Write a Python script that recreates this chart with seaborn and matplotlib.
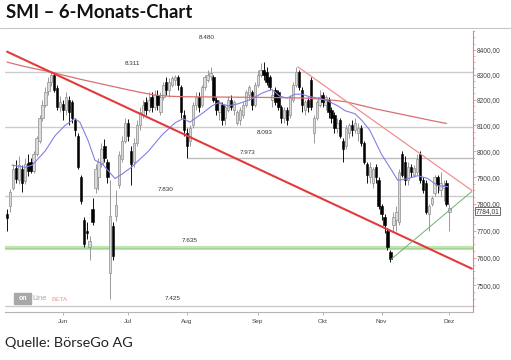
import numpy as np
import pandas as pd
import matplotlib
matplotlib.use("Agg")
import matplotlib.pyplot as plt
import seaborn as sns
from matplotlib.ticker import FixedLocator, NullFormatter
from matplotlib.patches import Rectangle

# daily candles (trading-day index 0..150)
opens = [7760, 7790, 7860, 7935, 7890, 7930, 7885, 7955, 7957, 7925,
         7990, 8040, 8130, 8180, 8235, 8270, 8300, 8245, 8170, 8185,
         8160, 8200, 8190, 8120, 8060, 7900, 7740, 7700, 7640, 7780,
         7860, 7900, 7950, 8020, 7960, 7545, 7715, 7755, 7870, 7970,
         8040, 8110, 8000, 7960, 8030, 8100, 8140, 8190, 8160, 8210,
         8170, 8220, 8150, 8210, 8270, 8240, 8260, 8280, 8290, 8250,
         8140, 8070, 8040, 8100, 8180, 8210, 8180, 8250, 8280, 8295,
         8290, 8200, 8150, 8180, 8130, 8160, 8200, 8160, 8110, 8120,
         8140, 8180, 8220, 8230, 8180, 8260, 8300, 8320, 8310, 8290,
         8200, 8240, 8230, 8170, 8130, 8160, 8140, 8200, 8260, 8310,
         8240, 8160, 8200, 8280, 8070, 8130, 8180, 8220, 8180, 8200,
         8160, 8140, 8090, 8120, 8040, 8020, 8070, 8100, 8080, 8070,
         8090, 8030, 7950, 7900, 7880, 7940, 7890, 7790, 7750, 7700,
         7620, 7720, 7740, 7730, 7990, 7960, 7890, 7940, 7910, 7920,
         7990, 7890, 7880, 7760, 7800, 7840, 7900, 7850, 7860, 7880,
         7770]
highs = [7780, 7855, 7950, 7965, 7980, 7945, 7975, 7990, 7975, 8000,
         8060, 8140, 8200, 8250, 8290, 8311, 8311, 8260, 8215, 8200,
         8230, 8215, 8200, 8130, 8070, 7910, 7750, 7730, 7680, 7820,
         7950, 7975, 8030, 8045, 7970, 7890, 7730, 7850, 8000, 8060,
         8130, 8125, 8020, 8050, 8120, 8170, 8200, 8210, 8230, 8230,
         8240, 8240, 8230, 8270, 8290, 8285, 8295, 8300, 8300, 8260,
         8160, 8090, 8100, 8190, 8230, 8230, 8260, 8300, 8320, 8330,
         8300, 8210, 8200, 8190, 8180, 8215, 8220, 8200, 8160, 8170,
         8190, 8240, 8260, 8240, 8270, 8320, 8345, 8350, 8330, 8300,
         8240, 8250, 8240, 8180, 8170, 8170, 8220, 8270, 8330, 8320,
         8250, 8200, 8210, 8290, 8140, 8200, 8240, 8230, 8220, 8210,
         8170, 8150, 8130, 8130, 8050, 8100, 8110, 8120, 8130, 8110,
         8100, 8040, 7960, 7960, 7940, 7950, 7900, 7800, 7760, 7710,
         7630, 7770, 7790, 7930, 8000, 7980, 7960, 7950, 7945, 7990,
         8000, 7900, 7890, 7800, 7830, 7910, 7910, 7920, 7890, 7890,
         7800]
lows = [7700, 7770, 7850, 7880, 7875, 7845, 7875, 7905, 7915, 7915,
        7980, 8030, 8115, 8170, 8220, 8255, 8230, 8160, 8150, 8120,
        8140, 8100, 8110, 8060, 7930, 7800, 7640, 7670, 7590, 7720,
        7840, 7850, 7940, 7960, 7880, 7450, 7590, 7735, 7860, 7960,
        8030, 8040, 7870, 7940, 8020, 8080, 8130, 8140, 8150, 8150,
        8160, 8160, 8140, 8200, 8220, 8210, 8250, 8260, 8240, 8130,
        8060, 7973, 8020, 8090, 8160, 8150, 8170, 8240, 8270, 8280,
        8190, 8140, 8120, 8100, 8100, 8150, 8160, 8140, 8100, 8100,
        8130, 8170, 8200, 8160, 8170, 8250, 8290, 8280, 8260, 8240,
        8170, 8180, 8160, 8110, 8110, 8100, 8130, 8190, 8250, 8240,
        8150, 8140, 8150, 8160, 8033, 8120, 8170, 8170, 8160, 8130,
        8110, 8070, 8070, 8050, 7960, 8010, 8050, 8060, 8070, 8040,
        8020, 7950, 7880, 7880, 7860, 7880, 7780, 7740, 7690, 7630,
        7585, 7700, 7700, 7720, 7900, 7870, 7870, 7900, 7900, 7910,
        7880, 7840, 7760, 7700, 7790, 7830, 7840, 7830, 7810, 7790,
        7700]
closes = [7745, 7845, 7930, 7895, 7945, 7880, 7950, 7925, 7922, 7990,
          8050, 8130, 8180, 8230, 8270, 8300, 8240, 8170, 8190, 8160,
          8210, 8150, 8130, 8080, 7940, 7810, 7650, 7690, 7660, 7730,
          7930, 7960, 8010, 7975, 7900, 7755, 7605, 7795, 7985, 8040,
          8110, 8060, 7950, 8030, 8100, 8150, 8180, 8160, 8200, 8170,
          8220, 8180, 8210, 8260, 8240, 8270, 8285, 8290, 8260, 8150,
          8080, 8020, 8090, 8180, 8210, 8170, 8250, 8290, 8300, 8305,
          8200, 8160, 8190, 8120, 8170, 8200, 8170, 8190, 8150, 8160,
          8180, 8230, 8250, 8180, 8260, 8300, 8320, 8300, 8270, 8250,
          8220, 8190, 8170, 8130, 8160, 8120, 8210, 8260, 8310, 8250,
          8180, 8190, 8170, 8170, 8130, 8190, 8210, 8190, 8210, 8150,
          8130, 8090, 8110, 8060, 8010, 8090, 8100, 8080, 8110, 8090,
          8030, 7960, 7910, 7940, 7930, 7900, 7790, 7760, 7720, 7640,
          7595, 7750, 7770, 7920, 7910, 7890, 7940, 7920, 7935, 7970,
          7890, 7850, 7770, 7790, 7820, 7900, 7870, 7880, 7870, 7800,
          7784.01]

# moving averages, sampled along the curves
ma20_idx = [1.7, 6.1, 8.5, 12.9, 16.3, 19.7, 23, 24.7, 27.5, 29.8, 32.2, 34.2,
            36.6, 39, 42.4, 44.4, 47.8, 52.5, 57, 59.7, 62, 66, 69.5, 71.5,
            75, 78.3, 83, 86.4, 89.8, 92.5, 95, 97.6, 100, 102, 105.4, 108.8,
            112.2, 114.6, 118, 120.3, 123, 127, 130.5, 132.5, 136, 139.3,
            142.7, 146, 149.5]
ma20_val = [7946, 7938, 7946, 8000, 8060, 8100, 8126, 8112, 8040, 7965, 7952,
            7926, 7895, 7912, 7940, 7962, 7998, 8062, 8110, 8126, 8112, 8145,
            8176, 8188, 8176, 8184, 8203, 8226, 8241, 8214, 8207, 8222, 8222,
            8214, 8207, 8195, 8176, 8157, 8145, 8119, 8081, 7987, 7925, 7888,
            7895, 7906, 7895, 7868, 7864]
ma200_idx = [0, 5, 10, 15, 20, 25, 30, 35, 40, 45, 50, 55, 60, 70, 80, 90,
             100, 105, 110, 115, 120, 125, 130, 135, 140, 145, 149]
ma200_val = [8350, 8335, 8322, 8310, 8295, 8281, 8268, 8255, 8242, 8230, 8219,
             8214, 8212, 8211, 8210, 8209, 8207, 8204, 8199, 8192, 8178, 8164,
             8152, 8140, 8128, 8116, 8107]

# horizontal support / resistance levels
levels = [8311, 8093, 7830, 7425]
level_texts = ["8.480", "8.311", "8.093", "7.973", "7.830", "7.635", "7.425"]
level_text_pos = [(67.8, 8448), (42.4, 8344), (87.5, 8072), (81.7, 7995),
                  (53.6, 7854), (62, 7664), (56, 7454)]

month_labels = ["Jun", "Jul", "Aug", "Sep", "Okt", "Nov", "Dez"]
month_idx = [19, 41, 61, 85, 107, 127, 150]
price_ticks = [7500, 7600, 7700, 7800, 7900, 8000, 8100, 8200, 8300, 8400]

df = pd.DataFrame({"o": opens, "h": highs, "l": lows, "c": closes})
df["i"] = np.arange(len(df))
up = df[df.c >= df.o]
dn = df[df.c < df.o]

sns.set_theme(style="white")
plt.rcParams["font.family"] = ["Liberation Sans", "DejaVu Sans"]

fig = plt.figure(figsize=(5.11, 3.6), dpi=100)
ax = fig.add_axes([5 / 511, 1 - 312 / 360, 468 / 511, 282 / 360])
ax.set_yscale("log")

for v in levels:
    ax.axhline(v, color="#cccccc", lw=1, zorder=0)
ax.hlines(7973, 61, 158, color="#bdbdbd", lw=1, zorder=0)
ax.axhline(7635, color="#bfe3b4", lw=3, zorder=0)
ax.axhline(7635, color="#9fd08f", lw=0.6, zorder=0)

# candles
ax.vlines(up.i, up.l, up.h, color="#9a9a9a", lw=0.7, zorder=2)
ax.vlines(dn.i, dn.l, dn.h, color="#111111", lw=0.7, zorder=2)
ax.bar(up.i, up.c - up.o, bottom=up.o, width=0.8, color="#dadada",
       edgecolor="#8e8e8e", linewidth=0.5, zorder=3)
ax.bar(dn.i, dn.o - dn.c, bottom=dn.c, width=0.8, color="black",
       edgecolor="black", linewidth=0.4, zorder=3)

sns.lineplot(x=ma200_idx, y=ma200_val, ax=ax, color="#d87070", lw=0.9, zorder=4)
sns.lineplot(x=ma20_idx, y=ma20_val, ax=ax, color="#8080e6", lw=0.8, zorder=4)

# trend lines
ax.plot([0, 157.6], [8392, 7560], color="#e23b3b", lw=1.5, zorder=5)
ax.plot([98.6, 157.6], [8331, 7850], color="#f09090", lw=0.9, zorder=5)
ax.plot([130.2, 157.6], [7594, 7846], color="#70b070", lw=0.7, zorder=5)

for t, (x, y) in zip(level_texts, level_text_pos):
    ax.text(x, y, t, fontsize=4.6, color="#333333", ha="center", va="center", zorder=6)

ax.set_xlim(-0.7, 158)
ax.set_ylim(7404, 8480)

ax.yaxis.tick_right()
ax.yaxis.set_major_locator(FixedLocator(price_ticks))
ax.yaxis.set_minor_locator(FixedLocator(np.arange(7425, 8480, 25)))
ax.yaxis.set_minor_formatter(NullFormatter())
ax.set_yticklabels([f"{v},00" for v in price_ticks])
ax.tick_params(axis="y", which="major", right=True, length=2, width=0.5,
               color="#e08080", labelsize=4.8, labelcolor="#444444", pad=1)
ax.tick_params(axis="y", which="minor", right=True, length=1.2, width=0.4, color="#e08080")

ax.set_xticks(month_idx)
ax.set_xticklabels(month_labels)
ax.tick_params(axis="x", bottom=True, length=2, width=0.5, color="#999999",
               labelsize=4.6, labelcolor="#444444", pad=3)

for s in ["top", "left"]:
    ax.spines[s].set_visible(False)
ax.spines["bottom"].set_color("#b5b5b5")
ax.spines["bottom"].set_linewidth(0.8)
ax.spines["right"].set_color("#e08080")
ax.spines["right"].set_linestyle((0, (1, 1)))
ax.spines["right"].set_linewidth(0.8)

ax.text(158.8, 7772, "7784,01", fontsize=4.8, color="#333333", ha="left", va="center",
        clip_on=False, zorder=7,
        bbox=dict(boxstyle="square,pad=0.08", fc="white", ec="#555555", lw=0.6))

# logo
ax.add_patch(Rectangle((0.02, 0.028), 0.036, 0.04, transform=ax.transAxes,
                       color="#a8a8a8", zorder=6))
ax.text(0.038, 0.047, "on", transform=ax.transAxes, fontsize=5, color="white",
        ha="center", va="center", zorder=7, fontweight="bold")
ax.text(0.058, 0.047, "Line", transform=ax.transAxes, fontsize=5.6, color="#a8a8a8",
        ha="left", va="center", zorder=7)
ax.text(0.1, 0.045, "BETA", transform=ax.transAxes, fontsize=4.6, color="#e59a9a",
        ha="left", va="center", zorder=7)

fig.text(6 / 511, 1 - 4 / 360, "SMI – 6-Monats-Chart", fontsize=13.3, fontweight="bold",
         family=["Lato", "DejaVu Sans"], color="#111111", ha="left", va="top")
fig.add_artist(plt.Line2D([0, 1], [1 - 28 / 360] * 2, color="#c8c8c8", lw=0.8))
fig.text(5 / 511, 1 - 347 / 360, "Quelle: BörseGo AG", fontsize=10.4,
         family=["Lato", "DejaVu Sans"], color="#222222", ha="left", va="baseline")

fig.savefig("out.png", dpi=100)
